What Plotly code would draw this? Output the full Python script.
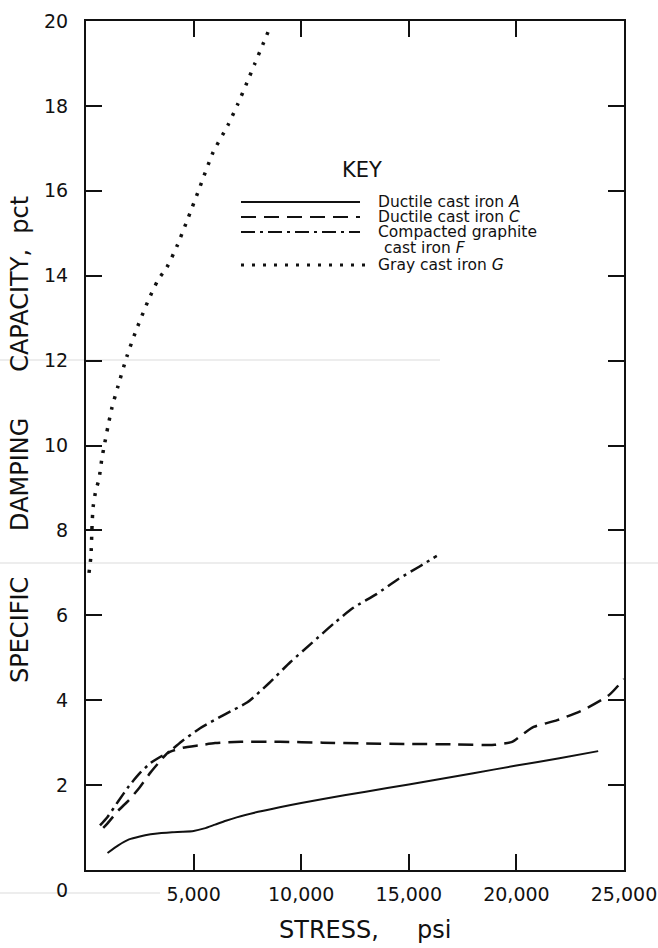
import plotly.graph_objects as go

# ---------------- data ----------------
a_x = [1000, 1500, 2000, 2500, 3000, 3500, 4000, 4500, 5000, 5500, 6000, 6500, 7000,
       8000, 9000, 10000, 12000, 14000, 16000, 18000, 20000, 22000, 23800]
a_y = [0.40, 0.58, 0.72, 0.79, 0.84, 0.87, 0.89, 0.90, 0.92, 0.98, 1.07, 1.16, 1.24,
       1.37, 1.48, 1.58, 1.76, 1.93, 2.10, 2.28, 2.46, 2.63, 2.80]

c_x = [800, 1000, 1500, 2000, 2500, 3000, 3500, 3800, 4500, 5300, 6000, 7200, 9000,
       11000, 13000, 15000, 17000, 19000, 19800, 20300, 20800, 21900, 23100, 24300, 25000]
c_y = [0.99, 1.10, 1.40, 1.65, 1.95, 2.30, 2.60, 2.76, 2.88, 2.94, 2.99, 3.02, 3.02,
       3.00, 2.98, 2.97, 2.96, 2.95, 3.02, 3.20, 3.37, 3.53, 3.77, 4.12, 4.50]

f_x = [650, 1000, 1500, 2000, 2500, 3000, 3500, 3800, 4500, 5300, 6500, 7500, 8500,
       9500, 10500, 11500, 12400, 13500, 14500, 15500, 16300]
f_y = [1.05, 1.25, 1.62, 1.98, 2.28, 2.52, 2.68, 2.76, 3.05, 3.34, 3.68, 3.95, 4.40,
       4.90, 5.35, 5.80, 6.17, 6.50, 6.85, 7.15, 7.40]

g_x = [140, 230, 280, 330, 460, 600, 740, 850, 1020, 1210, 1490, 1900, 2320, 2880,
       3350, 3760, 4230, 4700, 5300, 5900, 6600, 7060, 7480, 7850, 8220, 8550]
g_y = [7.0, 7.4, 8.1, 8.55, 8.95, 9.2, 9.7, 10.0, 10.45, 10.9, 11.4, 12.1, 12.7, 13.4,
       13.9, 14.2, 14.7, 15.3, 16.1, 16.9, 17.55, 18.05, 18.55, 19.0, 19.45, 19.85]

series_names = ["Ductile cast iron <i>A</i>", "Ductile cast iron <i>C</i>",
                "Compacted graphite<br> cast iron <i>F</i>", "Gray cast iron <i>G</i>"]

x_tickvals = [5000, 10000, 15000, 20000, 25000]
x_ticktext = ["5,000", "10,000", "15,000", "20,000", "25,000"]
y_tickvals = [2, 4, 6, 8, 10, 12, 14, 16, 18, 20]
y_ticktext = ["2", "4", "6", "8", "10", "12", "14", "16", "18", "20"]

FONT = "DejaVu Sans"
BLACK = "#111111"

DASH_A = "solid"
DASH_C = "15px,8px"
DASH_F = "14px,5px,3px,5px"
DASH_G = "3px,8px"

fig = go.Figure()
for xs, ys, dash, w, name in [
    (a_x, a_y, DASH_A, 2, series_names[0]),
    (c_x, c_y, DASH_C, 2.5, series_names[1]),
    (f_x, f_y, DASH_F, 2.5, series_names[2]),
    (g_x, g_y, DASH_G, 3.5, series_names[3]),
]:
    fig.add_trace(go.Scatter(x=xs, y=ys, mode="lines", name=name,
                             line=dict(color=BLACK, width=w, dash=dash, shape="spline",
                                       smoothing=0.6),
                             showlegend=False, hoverinfo="skip"))

axis_common = dict(showgrid=False, zeroline=False, showline=True, linecolor=BLACK,
                   linewidth=2, mirror="ticks", ticks="inside", ticklen=16,
                   tickwidth=2, tickcolor=BLACK, automargin=False,
                   tickfont=dict(family=FONT, size=19, color=BLACK))

fig.update_xaxes(range=[0, 25000], tickvals=x_tickvals, ticktext=x_ticktext,
                 ticklabelstandoff=6, **axis_common)
fig.update_yaxes(range=[0, 20], tickvals=y_tickvals, ticktext=y_ticktext,
                 ticklabelstandoff=12, **axis_common)

# ---------------- key & labels (paper coordinates) ----------------
L, T, W, H = 86, 21, 538, 849


def px(x):
    return (x - L) / W


def py(y):
    return (T + H - y) / H


shapes = []
annos = []
rows = [202, 217, 232, 265]
dashes = [DASH_A, DASH_C, DASH_F, DASH_G]
widths = [1.8, 2.2, 2.2, 3]
ends = [360, 360, 360, 366]
for r, d, w, e in zip(rows, dashes, widths, ends):
    shapes.append(dict(type="line", xref="paper", yref="paper", x0=px(241), x1=px(e),
                       y0=py(r), y1=py(r), line=dict(color=BLACK, width=w, dash=d)))

text_rows = [(376, 202, "Ductile cast iron <i>A</i>"),
             (376, 217, "Ductile cast iron <i>C</i>"),
             (376, 232, "Compacted graphite"),
             (382, 248, "cast iron <i>F</i>"),
             (376, 265, "Gray cast iron <i>G</i>")]
for x, y, t in text_rows:
    annos.append(dict(text=t, xref="paper", yref="paper", x=px(x), y=py(y),
                      xanchor="left", yanchor="middle", showarrow=False,
                      font=dict(family=FONT, size=15.5, color=BLACK)))

annos.append(dict(text="KEY", xref="paper", yref="paper", x=px(362), y=py(170),
                  xanchor="center", yanchor="middle", showarrow=False,
                  font=dict(family=FONT, size=21, color=BLACK)))

# corner "0"
annos.append(dict(text="0", xref="paper", yref="paper", x=px(62), y=py(890),
                  xanchor="center", yanchor="middle", showarrow=False,
                  font=dict(family=FONT, size=19, color=BLACK)))

# axis titles
NB = "\u00a0"
annos.append(dict(text=f"STRESS,{NB*5}psi", xref="paper", yref="paper",
                  x=px(365), y=py(930), xanchor="center", yanchor="middle",
                  showarrow=False, font=dict(family=FONT, size=24, color=BLACK)))
annos.append(dict(text=f"SPECIFIC{NB*6}DAMPING{NB*6}CAPACITY,{NB*2}pct",
                  xref="paper", yref="paper", x=px(20), y=py(440),
                  xanchor="center", yanchor="middle", textangle=-90,
                  showarrow=False, font=dict(family=FONT, size=24, color=BLACK)))

# faint scan lines present in the reference image
for y0, x0, x1 in [(360, 0, 440), (563, 0, 658), (893, 0, 160)]:
    shapes.append(dict(type="line", xref="paper", yref="paper",
                       x0=px(x0), x1=px(x1), y0=py(y0), y1=py(y0),
                       line=dict(color="#dcdcdc", width=1.2), layer="below"))

fig.update_layout(width=658, height=948,
                  margin=dict(l=L, r=658 - L - W, t=T, b=948 - T - H, autoexpand=False),
                  paper_bgcolor="white", plot_bgcolor="white",
                  shapes=shapes, annotations=annos, showlegend=False)

fig.write_html("out.html", config={"displayModeBar": False},
               post_script="document.body.style.margin='0px';"
                           "document.body.style.overflow='hidden';")
